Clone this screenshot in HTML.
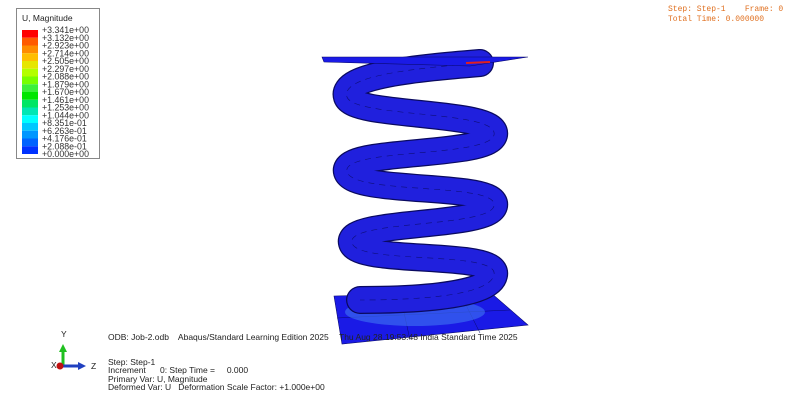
<!DOCTYPE html>
<html><head><meta charset="utf-8"><style>
body{margin:0;background:#fff;}
svg{display:block;font-family:"Liberation Sans",sans-serif;}
text{white-space:pre;}
</style></head><body>
<svg width="800" height="404" viewBox="0 0 800 404">
<rect width="800" height="404" fill="#fff"/>
<g>
<rect x="16.5" y="8.5" width="83" height="150" fill="#fff" stroke="#888"/>
<text x="22" y="21" font-size="8.5" fill="#222">U, Magnitude</text>
<g id="bands"></g>
<g id="labels" font-size="8.8" fill="#333"></g>
</g>
<g font-family="Liberation Mono,monospace" font-size="8" fill="#e07020">
<text x="668" y="11">Step: Step-1    Frame: 0</text>
<text x="668" y="21">Total Time: 0.000000</text>
</g>
<g>
<polygon points="334,296 490,292 528,325 342,344" fill="#1a1ae6" stroke="#0a0a70" stroke-width="0.6"/>
<line x1="337" y1="318" x2="510" y2="310" stroke="#0a0a70" stroke-width="0.5"/>
<line x1="400" y1="294" x2="410" y2="340" stroke="#0a0a70" stroke-width="0.5"/>
<line x1="460" y1="293" x2="480" y2="333" stroke="#0a0a70" stroke-width="0.5"/>
<ellipse cx="415" cy="312" rx="70" ry="14" fill="#3a6af0" opacity="0.7"/>
</g>
<g>
<path d="M480,63 C420,68 340,75 347,97 C354,118 500,110 494,135 C488,158 340,148 347,172 C354,195 500,182 494,206 C488,228 345,220 352,243 C358,265 500,250 494,275 C489,298 400,300 360,300" fill="none" stroke="#0a0a60" stroke-width="28" stroke-linecap="round"/>
<path d="M480,63 C420,68 340,75 347,97 C354,118 500,110 494,135 C488,158 340,148 347,172 C354,195 500,182 494,206 C488,228 345,220 352,243 C358,265 500,250 494,275 C489,298 400,300 360,300" fill="none" stroke="#2020dd" stroke-width="25.5" stroke-linecap="round"/>
<path d="M480,63 C420,68 340,75 347,97 C354,118 500,110 494,135 C488,158 340,148 347,172 C354,195 500,182 494,206 C488,228 345,220 352,243 C358,265 500,250 494,275 C489,298 400,300 360,300" fill="none" stroke="#0a0a60" stroke-width="0.6" stroke-dasharray="6 5" opacity="0.8"/>
</g>
<g>
<polygon points="322,57 528,57 470,66 324,62" fill="#1a1ae6" stroke="#0a0a70" stroke-width="0.6"/>
<line x1="466" y1="63" x2="490" y2="62" stroke="#e02020" stroke-width="2"/>
</g>
<g font-size="8.5" fill="#222">
<text x="108" y="340">ODB: Job-2.odb    Abaqus/Standard Learning Edition 2025</text>
<text x="339" y="340">Thu Aug 28 19:53:48 India Standard Time 2025</text>
<text x="108" y="365">Step: Step-1</text>
<text x="108" y="373">Increment      0: Step Time =     0.000</text>
<text x="108" y="382">Primary Var: U, Magnitude</text>
<text x="108" y="390">Deformed Var: U   Deformation Scale Factor: +1.000e+00</text>
</g>
<g>
<line x1="63" y1="366" x2="63" y2="350" stroke="#20c020" stroke-width="3"/>
<polygon points="59,352 67,352 63,344" fill="#20c020"/>
<line x1="63" y1="366" x2="80" y2="366" stroke="#2040c0" stroke-width="3"/>
<polygon points="78,362 78,370 86,366" fill="#2040c0"/>
<circle cx="60" cy="366" r="3.5" fill="#c01010"/>
<text x="61" y="337" font-size="8.5" fill="#222">Y</text>
<text x="51" y="368" font-size="8.5" fill="#222">X</text>
<text x="91" y="369" font-size="8.5" fill="#222">Z</text>
</g>
<script>
const legendValues=["+3.341e+00","+3.132e+00","+2.923e+00","+2.714e+00","+2.505e+00","+2.297e+00","+2.088e+00","+1.879e+00","+1.670e+00","+1.461e+00","+1.253e+00","+1.044e+00","+8.351e-01","+6.263e-01","+4.176e-01","+2.088e-01","+0.000e+00"];
const bandColors=["#ff0000","#ff5a00","#ff8c00","#ffbe00","#e6e600","#b4ff00","#78ff00","#3cf03c","#00e600","#00e664","#00e6b4","#00ffff","#00c8ff","#0096ff","#0064ff","#0032ff"];
const ns="http://www.w3.org/2000/svg";
const bands=document.getElementById('bands'),labels=document.getElementById('labels');
const top0=30,step=7.75;
bandColors.forEach((c,i)=>{const r=document.createElementNS(ns,'rect');
r.setAttribute('x',22);r.setAttribute('y',top0+i*step);r.setAttribute('width',16);r.setAttribute('height',step);r.setAttribute('fill',c);


bands.appendChild(r);});
legendValues.forEach((v,i)=>{const t=document.createElementNS(ns,'text');
t.setAttribute('x',42);t.setAttribute('y',top0+i*step+3);t.textContent=v;


labels.appendChild(t);});
</script>
</svg>
</body></html>
